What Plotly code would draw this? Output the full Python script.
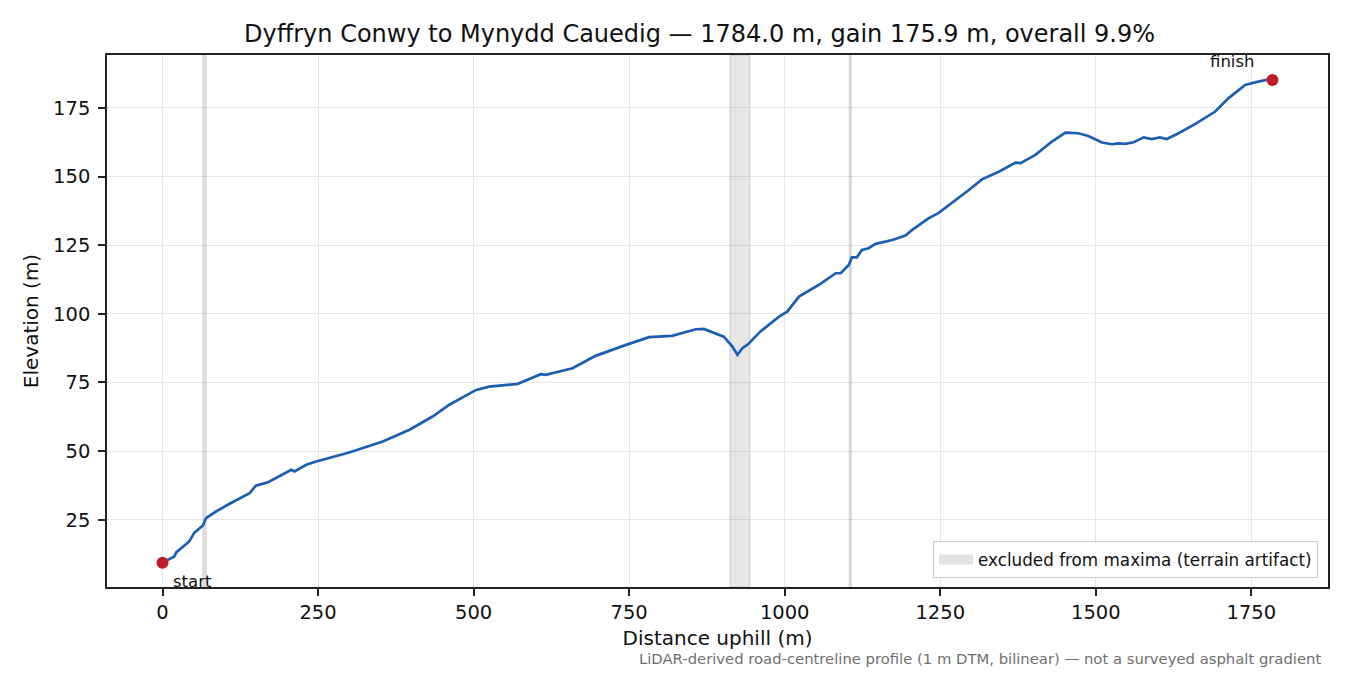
import plotly.graph_objects as go

# profile (distance uphill, elevation)
dist_m = [0, 19, 22, 43, 51, 65, 70, 86, 110, 140, 150, 169, 207, 212, 231, 247,
          300, 354, 397, 434, 461, 476, 504, 525, 571, 608, 616, 659, 696, 745,
          782, 819, 857, 870, 892, 902, 916, 924, 932, 942, 961, 975, 991, 1004,
          1023, 1055, 1071, 1082, 1090, 1103, 1108, 1116, 1124, 1135, 1146, 1173,
          1194, 1205, 1231, 1247, 1296, 1317, 1344, 1371, 1379, 1403, 1429, 1451,
          1472, 1488, 1510, 1526, 1536, 1547, 1561, 1577, 1590, 1603, 1614, 1633,
          1660, 1692, 1713, 1740, 1761, 1780, 1784]
elev_m = [9.3, 11.6, 13.1, 17.1, 20.2, 22.9, 25.6, 28.0, 31.1, 34.7, 37.4, 38.6,
          43.2, 42.6, 45.0, 46.2, 49.5, 53.5, 57.8, 62.6, 66.9, 68.7, 72.3, 73.5,
          74.5, 78.0, 77.8, 80.2, 84.7, 88.7, 91.5, 92.0, 94.4, 94.5, 92.4, 91.7,
          88.1, 85.1, 87.5, 89.1, 93.6, 96.0, 99.0, 100.8, 106.3, 110.6, 113.0,
          114.8, 114.8, 117.8, 120.6, 120.6, 123.3, 123.9, 125.5, 126.9, 128.5,
          130.6, 134.8, 136.7, 145.1, 149.0, 151.8, 155.1, 154.9, 157.9, 162.7,
          166.0, 165.8, 164.8, 162.4, 161.8, 162.1, 161.9, 162.5, 164.3, 163.7,
          164.3, 163.7, 165.8, 169.2, 173.7, 178.5, 183.4, 184.6, 185.5, 185.2]

# spans excluded from maxima (terrain artifacts)
excluded_start = [65, 912, 1104]
excluded_end = [70, 944, 1107]

x_ticks = [0, 250, 500, 750, 1000, 1250, 1500, 1750]
y_ticks = [25, 50, 75, 100, 125, 150, 175]

X_RANGE = [-89.2, 1873.2]
Y_RANGE = [0.5, 194.3]

title = "Dyffryn Conwy to Mynydd Cauedig — 1784.0 m, gain 175.9 m, overall 9.9%"
footnote = "LiDAR-derived road-centreline profile (1 m DTM, bilinear) — not a surveyed asphalt gradient"
band_label = "excluded from maxima (terrain artifact)"

FONT = "DejaVu Sans"
BLUE = "#1c5fb2"
RED = "#c01c28"

fig = go.Figure()

# grey bands, full height of the axes
for a, b in zip(excluded_start, excluded_end):
    y0, y1 = Y_RANGE
    fig.add_trace(go.Scatter(x=[a, a, b, b, a], y=[y0, y1, y1, y0, y0],
                             mode="lines", fill="toself",
                             fillcolor="rgba(128,128,128,0.2)",
                             line=dict(color="rgba(128,128,128,0.22)", width=1.5),
                             showlegend=False, hoverinfo="skip"))

# legend swatch for the bands (no data, just the key)
fig.add_trace(go.Scatter(x=[None], y=[None], mode="lines", name=band_label,
                         line=dict(color="#e2e2e0", width=12)))

fig.add_trace(go.Scatter(x=dist_m, y=elev_m, mode="lines",
                         line=dict(color=BLUE, width=2.7), showlegend=False,
                         hoverinfo="skip"))
fig.add_trace(go.Scatter(x=[dist_m[0], dist_m[-1]], y=[elev_m[0], elev_m[-1]],
                         mode="markers", marker=dict(color=RED, size=12),
                         showlegend=False))

fig.add_annotation(x=dist_m[0], y=elev_m[0], text="start", showarrow=False,
                   xanchor="left", yanchor="middle", xshift=8, yshift=-19,
                   font=dict(family=FONT, size=16.5, color="#111"))
fig.add_annotation(x=dist_m[-1], y=elev_m[-1], text="finish", showarrow=False,
                   xanchor="right", yanchor="middle", xshift=-16, yshift=18,
                   font=dict(family=FONT, size=16.5, color="#111"))
fig.add_annotation(x=0.9959, y=-0.135, xref="paper", yref="paper", text=footnote,
                   showarrow=False, xanchor="right", yanchor="middle",
                   font=dict(family=FONT, size=14.8, color="#707070"))

axis_style = dict(showline=True, mirror=True, linecolor="#222", linewidth=1.6,
                  ticks="outside", ticklen=7, tickwidth=1.5, tickcolor="#222",
                  showgrid=True, gridcolor="#e6e6e6", gridwidth=1, zeroline=False,
                  tickfont=dict(family=FONT, size=19.5, color="#111"))

fig.update_xaxes(range=X_RANGE, tickvals=x_ticks,
                 title=dict(text="Distance uphill (m)", standoff=8,
                            font=dict(family=FONT, size=20, color="#111")),
                 **axis_style)
fig.update_yaxes(range=Y_RANGE, tickvals=y_ticks, ticklabelstandoff=4,
                 title=dict(text="Elevation (m)", standoff=9,
                            font=dict(family=FONT, size=20, color="#111")),
                 **axis_style)

fig.update_layout(
    width=1350, height=675,
    margin=dict(l=107, r=22, t=55, b=88),
    plot_bgcolor="white", paper_bgcolor="white",
    font=dict(family=FONT, color="#111"),
    title=dict(text=title, x=244 / 1350, xanchor="left", xref="container",
               y=1 - 33.5 / 675, yanchor="middle", yref="container",
               font=dict(family=FONT, size=24, color="#111")),
    legend=dict(x=0.9918, y=0.017, xanchor="right", yanchor="bottom",
                itemwidth=34,
                bgcolor="rgba(255,255,255,0.85)", bordercolor="#cccccc",
                borderwidth=1, font=dict(family=FONT, size=16.8, color="#111")),
)

fig.write_html("out.html", config={"displayModeBar": False},
               post_script="document.body.style.margin='0';")
